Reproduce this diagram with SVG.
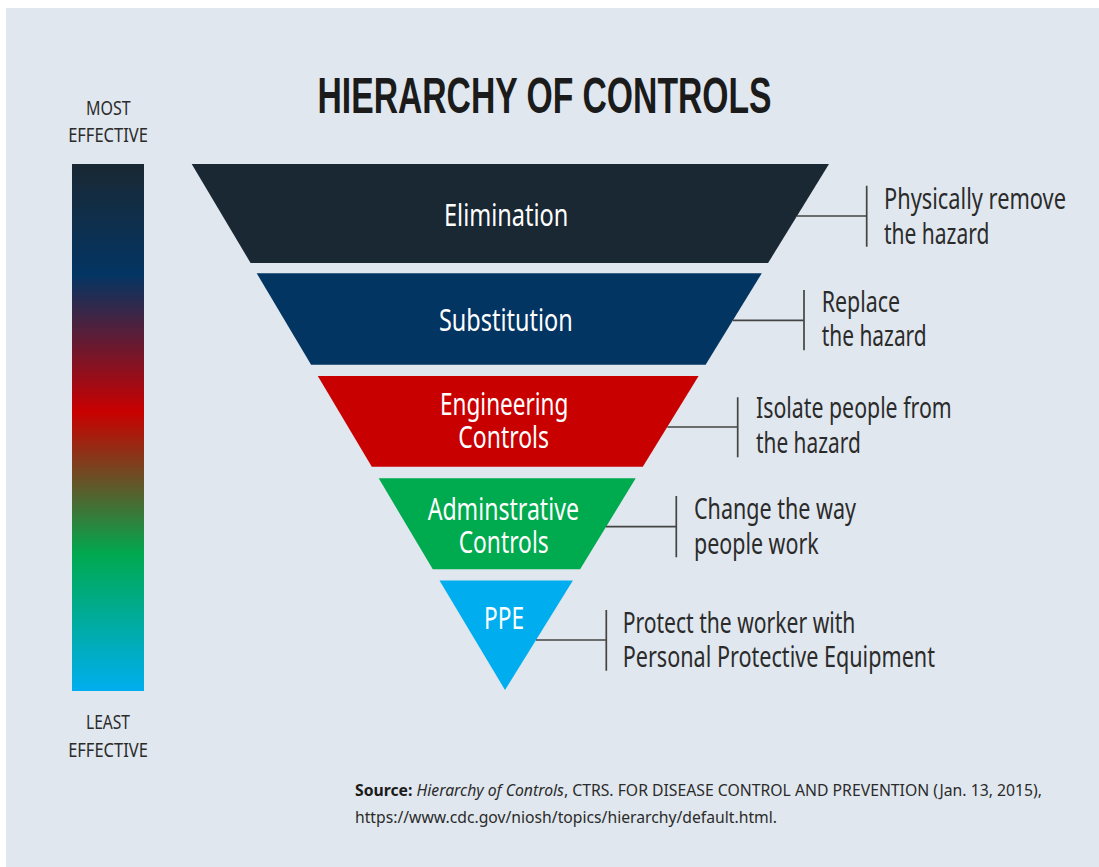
<svg xmlns="http://www.w3.org/2000/svg" width="1099" height="867" viewBox="0 0 1099 867">
<defs>
<linearGradient id="effGrad" x1="0" y1="0" x2="0" y2="1">
<stop offset="0" stop-color="#1a2833"/>
<stop offset="0.21" stop-color="#033563"/>
<stop offset="0.47" stop-color="#c90000"/>
<stop offset="0.74" stop-color="#00a94f"/>
<stop offset="1" stop-color="#00aeef"/>
</linearGradient>
<style>
.t{font-family:"Liberation Sans Narrow","Noto Sans","Liberation Sans",sans-serif;}
.lbl{font-size:31px;fill:#ffffff;text-anchor:middle;}
.desc{font-size:29px;fill:#2b2b2b;}
.side{font-size:20px;fill:#2b2b2b;text-anchor:middle;}
.title{font-family:"Liberation Sans Narrow","Liberation Sans",sans-serif;font-size:50px;font-weight:bold;fill:#1b1b1b;}
.src{font-size:16px;fill:#2b2b2b;}
.conn{stroke:#444444;stroke-width:1.7;fill:none;}
</style>
</defs>
<rect x="0" y="0" width="1099" height="867" fill="#ffffff"/>
<rect x="6" y="8" width="1093" height="859" fill="#e0e7ee"/>

<g id="title">
<text class="title" x="317.5" y="113.3" textLength="454" lengthAdjust="spacingAndGlyphs">HIERARCHY OF CONTROLS</text>
</g>

<g id="effectiveness-scale">
<text class="t side" x="108.3" y="115.3" textLength="44.7" lengthAdjust="spacingAndGlyphs">MOST</text>
<text class="t side" x="108" y="141.7" textLength="79.7" lengthAdjust="spacingAndGlyphs">EFFECTIVE</text>
<rect x="72" y="164" width="72" height="527" fill="url(#effGrad)"/>
<text class="t side" x="108" y="729.3" textLength="44" lengthAdjust="spacingAndGlyphs">LEAST</text>
<text class="t side" x="108" y="756.7" textLength="79.7" lengthAdjust="spacingAndGlyphs">EFFECTIVE</text>
</g>

<g id="elimination">
<polygon points="191.7,164 829,164 768.1,263 250.6,263" fill="#1a2833"/>
<text class="t lbl" x="506.2" y="226" textLength="124.3" lengthAdjust="spacingAndGlyphs">Elimination</text>
<text class="t desc" x="884" y="209.3" textLength="182" lengthAdjust="spacingAndGlyphs">Physically remove</text>
<text class="t desc" x="884" y="244" textLength="105.3" lengthAdjust="spacingAndGlyphs">the hazard</text>
</g>

<g id="substitution">
<polygon points="256.7,273.3 761.8,273.3 705.6,364.7 311.1,364.7" fill="#033563"/>
<text class="t lbl" x="505.8" y="331" textLength="133.7" lengthAdjust="spacingAndGlyphs">Substitution</text>
<text class="t desc" x="821.7" y="311.7" textLength="78.3" lengthAdjust="spacingAndGlyphs">Replace</text>
<text class="t desc" x="821.7" y="346" textLength="105" lengthAdjust="spacingAndGlyphs">the hazard</text>
</g>

<g id="engineering-controls">
<polygon points="317.8,376 698.6,376 642.8,466.7 371.8,466.7" fill="#c90000"/>
<text class="t lbl" x="504.2" y="415" textLength="128.3" lengthAdjust="spacingAndGlyphs">Engineering</text>
<text class="t lbl" x="503.7" y="448.3" textLength="90.7" lengthAdjust="spacingAndGlyphs">Controls</text>
<text class="t desc" x="756" y="417.7" textLength="195.7" lengthAdjust="spacingAndGlyphs">Isolate people from</text>
<text class="t desc" x="756" y="452.7" textLength="104.7" lengthAdjust="spacingAndGlyphs">the hazard</text>
</g>

<g id="administrative-controls">
<polygon points="378.7,478.3 635.7,478.3 580.1,569.3 432.8,569.3" fill="#00aa4e"/>
<text class="t lbl" x="503.3" y="520" textLength="151.3" lengthAdjust="spacingAndGlyphs">Adminstrative</text>
<text class="t lbl" x="503.7" y="552.7" textLength="90" lengthAdjust="spacingAndGlyphs">Controls</text>
<text class="t desc" x="694" y="519.3" textLength="162" lengthAdjust="spacingAndGlyphs">Change the way</text>
<text class="t desc" x="694" y="554" textLength="124.7" lengthAdjust="spacingAndGlyphs">people work</text>
</g>

<g id="ppe">
<polygon points="439.5,580.5 572.9,580.5 505,690" fill="#00aeef"/>
<text class="t lbl" x="504" y="629.3" textLength="40" lengthAdjust="spacingAndGlyphs">PPE</text>
<text class="t desc" x="622.7" y="632.7" textLength="232.6" lengthAdjust="spacingAndGlyphs">Protect the worker with</text>
<text class="t desc" x="622.7" y="667.3" textLength="312.3" lengthAdjust="spacingAndGlyphs">Personal Protective Equipment</text>
</g>

<g id="connectors">
<path class="conn" d="M797,216 H866.7 M866.7,185.7 V246.7"/>
<path class="conn" d="M733,320.3 H804 M804,290 V350.3"/>
<path class="conn" d="M667.3,427 H737.7 M737.7,397.3 V457.3"/>
<path class="conn" d="M605.9,526.7 H676.3 M676.3,496 V557.3"/>
<path class="conn" d="M536,640 H606.3 M606.3,610 V670.7"/>
</g>

<g id="source">
<text class="t src" x="355" y="796.3" textLength="687" lengthAdjust="spacingAndGlyphs"><tspan font-weight="bold" fill="#1b1b1b">Source:</tspan> <tspan font-style="italic">Hierarchy of Controls</tspan>, CTRS. FOR DISEASE CONTROL AND PREVENTION (Jan. 13, 2015),</text>
<text class="t src" x="355" y="823.3" textLength="422" lengthAdjust="spacingAndGlyphs">https://www.cdc.gov/niosh/topics/hierarchy/default.html.</text>
</g>
</svg>
